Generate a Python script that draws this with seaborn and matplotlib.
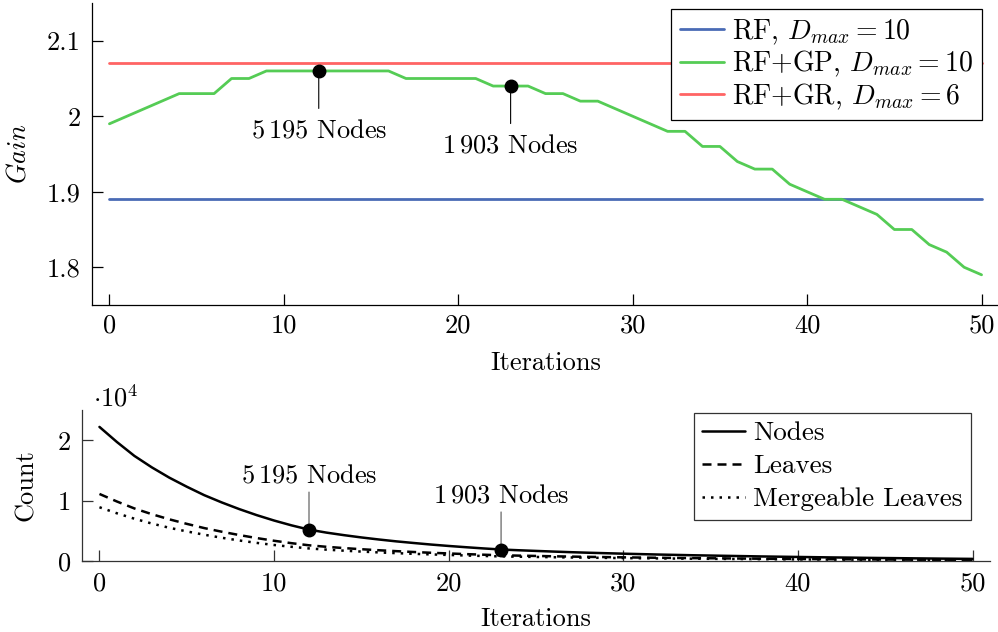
import matplotlib
matplotlib.use("Agg")
import matplotlib.pyplot as plt
import numpy as np
import pandas as pd
import seaborn as sns

# ---- data -----------------------------------------------------------------
iterations = list(range(51))

gain_rf = 1.89      # plain random forest, D_max = 10
gain_rf_gr = 2.07   # random forest + GR, D_max = 6
gain_rf_gp = [
    1.99, 2.00, 2.01, 2.02, 2.03, 2.03, 2.03, 2.05, 2.05, 2.06,
    2.06, 2.06, 2.06, 2.06, 2.06, 2.06, 2.06, 2.05, 2.05, 2.05,
    2.05, 2.05, 2.04, 2.04, 2.04, 2.03, 2.03, 2.02, 2.02, 2.01,
    2.00, 1.99, 1.98, 1.98, 1.96, 1.96, 1.94, 1.93, 1.93, 1.91,
    1.90, 1.89, 1.89, 1.88, 1.87, 1.85, 1.85, 1.83, 1.82, 1.80,
    1.79,
]

nodes = [
    22200, 19700, 17400, 15500, 13800, 12300, 10900, 9700, 8600, 7600,
    6700, 5900, 5195, 4700, 4280, 3900, 3560, 3250, 2980, 2720,
    2490, 2280, 2080, 1903, 1780, 1670, 1560, 1460, 1370, 1290,
    1210, 1140, 1070, 1010, 950, 900, 850, 800, 750, 710,
    670, 630, 590, 560, 520, 490, 460, 430, 400, 375,
    350,
]
leaves = [
    11100, 9850, 8700, 7750, 6900, 6150, 5450, 4850, 4300, 3800,
    3350, 2950, 2600, 2350, 2140, 1950, 1780, 1630, 1490, 1360,
    1250, 1140, 1040, 950, 890, 835, 780, 730, 685, 645,
    605, 570, 535, 505, 475, 450, 425, 400, 375, 355,
    335, 315, 295, 280, 260, 245, 230, 215, 200, 190,
    175,
]
mergeable_leaves = [
    8900, 7900, 7000, 6200, 5500, 4900, 4350, 3850, 3400, 3000,
    2650, 2350, 2080, 1880, 1710, 1560, 1420, 1300, 1190, 1090,
    1000, 910, 830, 760, 710, 670, 625, 585, 550, 515,
    485, 455, 430, 405, 380, 360, 340, 320, 300, 285,
    270, 250, 235, 225, 210, 195, 185, 170, 160, 150,
    140,
]

marked_iterations = [12, 23]

gain_labels = ["RF, $D_{max} = 10$", "RF+GP, $D_{max} = 10$", "RF+GR, $D_{max} = 6$"]
count_labels = ["Nodes", "Leaves", "Mergeable Leaves"]
gain_ticks = [1.8, 1.9, 2.0, 2.1]
gain_tick_labels = ["1.8", "1.9", "2", "2.1"]
count_ticks = [0, 10000, 20000]
count_tick_labels = ["0", "1", "2"]
iter_ticks = [0, 10, 20, 30, 40, 50]

# ---- style ----------------------------------------------------------------
sns.set_theme(style="white")
plt.rcParams.update({
    "font.family": ["cmr10"],
    "mathtext.fontset": "cm",
    "axes.formatter.use_mathtext": True,
    "axes.unicode_minus": False,
    "font.size": 19,
    "axes.labelsize": 19,
    "xtick.labelsize": 19,
    "ytick.labelsize": 19,
    "legend.fontsize": 20,
    "axes.edgecolor": "black",
    "axes.linewidth": 0.9,
    "text.color": "black",
    "axes.labelcolor": "black",
    "xtick.color": "black",
    "ytick.color": "black",
})

BLUE = "#4a6bb5"
GREEN = "#55cc55"
RED = "#ff6464"


def node_label(n):
    return rf"${n // 1000}\,{n % 1000:03d}$ Nodes"


def style_axes(ax, edge):
    sns.despine(ax=ax)
    for side in ("left", "bottom"):
        ax.spines[side].set_color(edge)
    ax.tick_params(axis="both", direction="in", length=8, width=0.9,
                   color=edge, bottom=True, left=True, top=False, right=False)


fig = plt.figure(figsize=(9.98, 6.32), dpi=100)
W, H = 998, 632

# ---- upper panel: gain ----------------------------------------------------
ax1 = fig.add_axes([92 / W, 1 - 305 / H, 907 / W, 302 / H])
gain_df = pd.DataFrame({
    "Iterations": iterations,
    "RF": [gain_rf] * len(iterations),
    "RF+GP": gain_rf_gp,
    "RF+GR": [gain_rf_gr] * len(iterations),
})
for col, color, lab in zip(["RF", "RF+GP", "RF+GR"], [BLUE, GREEN, RED], gain_labels):
    sns.lineplot(data=gain_df, x="Iterations", y=col, ax=ax1, color=color,
                 lw=2.0, label=lab)

ax1.set_xlim(-1, 51)
ax1.set_ylim(1.75, 2.15)
ax1.set_xticks(iter_ticks)
ax1.set_xticklabels([str(t) for t in iter_ticks])
ax1.set_yticks(gain_ticks)
ax1.set_yticklabels(gain_tick_labels)
style_axes(ax1, "black")
ax1.tick_params(axis="x", pad=6)
ax1.tick_params(axis="y", pad=8)
ax1.set_xlabel("Iterations", labelpad=10)
ax1.set_ylabel("$Gain$", labelpad=12)

for it in marked_iterations:
    g = gain_rf_gp[it]
    ax1.plot([it], [g], "o", color="black", ms=9, zorder=5)
    ax1.annotate("", xy=(it, g), xytext=(0, -27), textcoords="offset points",
                 arrowprops=dict(arrowstyle="-", color="black", lw=0.8,
                                 shrinkA=0, shrinkB=0))
    ax1.annotate(node_label(nodes[it]), xy=(it, g), xytext=(0, -48),
                 textcoords="offset points", ha="center", va="baseline")

leg1 = ax1.legend(loc="upper right", bbox_to_anchor=(0.981, 0.980),
                  borderaxespad=0, frameon=True, fancybox=False, framealpha=1,
                  edgecolor="black", handlelength=1.6, handletextpad=0.3,
                  borderpad=0.3, labelspacing=0.08)
leg1.get_frame().set_linewidth(0.9)

# ---- lower panel: tree size -----------------------------------------------
ax2 = fig.add_axes([82 / W, 1 - 561 / H, 908 / W, 151 / H])
count_df = pd.DataFrame({
    "Iterations": iterations,
    "Nodes": nodes,
    "Leaves": leaves,
    "Mergeable Leaves": mergeable_leaves,
})
line_styles = ["-", (0, (3.6, 2.4)), (0, (1.0, 2.4))]
for col, ls in zip(count_labels, line_styles):
    sns.lineplot(data=count_df, x="Iterations", y=col, ax=ax2, color="black",
                 lw=1.8, ls=ls, label=col)

ax2.set_xlim(-1, 51)
ax2.set_ylim(0, 25000)
ax2.set_xticks(iter_ticks)
ax2.set_xticklabels([str(t) for t in iter_ticks])
ax2.set_yticks(count_ticks)
ax2.set_yticklabels(count_tick_labels)
style_axes(ax2, "#333333")
ax2.tick_params(axis="x", pad=8)
ax2.tick_params(axis="y", pad=8)
ax2.set_xlabel("Iterations", labelpad=8)
ax2.set_ylabel("Count", labelpad=14)
ax2.text(0.012, 0.99, r"$\cdot 10^4$", transform=ax2.transAxes,
         ha="left", va="bottom")

for it in marked_iterations:
    n = nodes[it]
    ax2.plot([it], [n], "o", color="black", ms=9, zorder=5)
    ax2.annotate("", xy=(it, n), xytext=(0, 27), textcoords="offset points",
                 arrowprops=dict(arrowstyle="-", color="#666666", lw=0.9,
                                 shrinkA=0, shrinkB=0))
    ax2.annotate(node_label(n), xy=(it, n), xytext=(0, 34),
                 textcoords="offset points", ha="center", va="baseline")

leg2 = ax2.legend(loc="upper right", bbox_to_anchor=(0.979, 0.980),
                  borderaxespad=0, frameon=True, fancybox=False, framealpha=1,
                  edgecolor="#333333", handlelength=1.6, handletextpad=0.3,
                  borderpad=0.3, labelspacing=0.34, fontsize=19.5)
leg2.get_frame().set_linewidth(0.9)

fig.savefig("out.png", dpi=100)
